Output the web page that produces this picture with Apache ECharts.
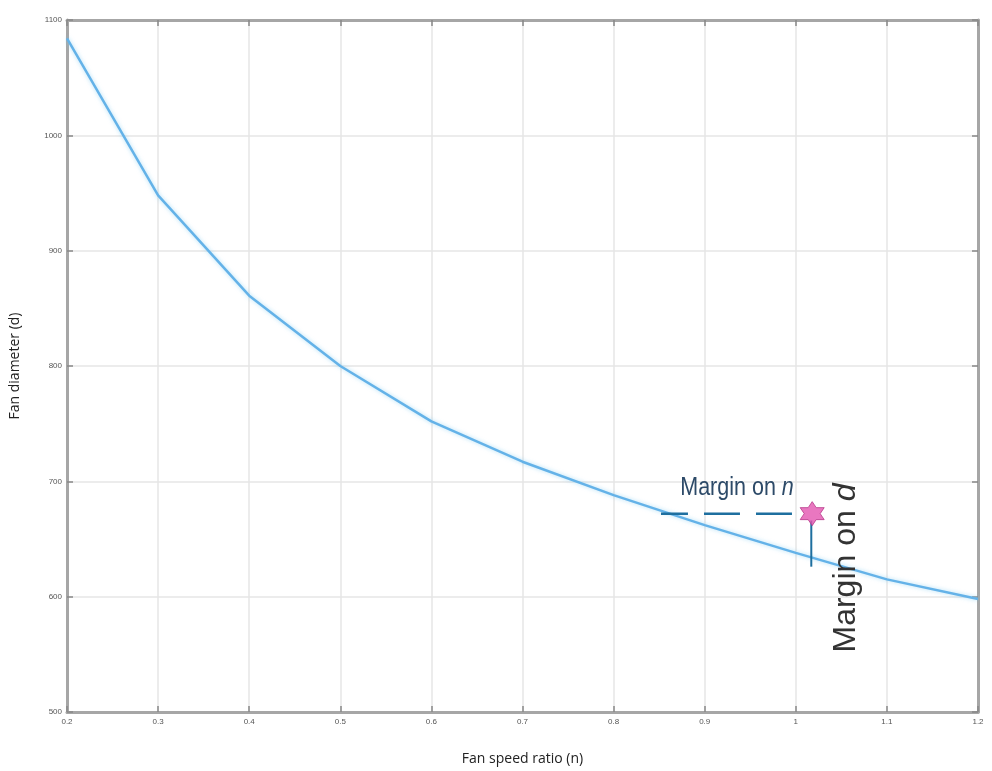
<!DOCTYPE html>
<html>
<head>
<meta charset="utf-8">
<script src="https://cdn.jsdelivr.net/npm/echarts@6/dist/echarts.min.js"></script>
<style>
  html, body { margin: 0; padding: 0; background: #fff; }
  #chart { width: 992px; height: 771px; }
</style>
</head>
<body>
<div id="chart"></div>
<script>
// fan speed ratio vs fan diameter
var speedRatio = [0.2, 0.3, 0.4, 0.5, 0.6, 0.7, 0.8, 0.9, 1.0, 1.1, 1.2];
var diameter = [1084, 948, 861, 800, 752, 717, 688, 662, 638, 615, 598];

// operating point and margins
var starPoint = [1.018, 672];
var marginN = [[0.852, 672], [0.997, 672]];
var marginD = [[1.017, 666], [1.017, 626]];

var chartDom = document.getElementById('chart');
var myChart = echarts.init(chartDom);

var frameColor = '#a6a6a6';
var labelStyle = { color: '#555', fontSize: 8, fontFamily: 'Liberation Sans' };
var hexagram = 'path://M0,-10 L2.89,-5 L8.66,-5 L5.77,0 L8.66,5 L2.89,5 L0,10 L-2.89,5 L-8.66,5 L-5.77,0 L-8.66,-5 L-2.89,-5 Z';

var option = {
    backgroundColor: '#fff',
    animation: false,
    grid: {
        left: 65,
        right: 14,
        top: 20,
        bottom: 53
    },
    xAxis: [
        {
            type: 'value',
            min: 0.2,
            max: 1.2,
            interval: 0.1,
            name: 'Fan speed ratio (n)',
            nameLocation: 'middle',
            nameGap: 40,
            nameTextStyle: { color: '#222', fontSize: 14, fontFamily: 'Open Sans' },
            axisLine: { lineStyle: { color: frameColor, width: 3 } },
            axisTick: { inside: true, length: 6, lineStyle: { color: '#888', width: 1.5 } },
            axisLabel: Object.assign({ margin: 6, formatter: function (v) { return +v.toFixed(1) + ''; } }, labelStyle),
            splitLine: { lineStyle: { color: '#e6e6e6', width: 1.5 } }
        },
        {
            type: 'value',
            position: 'top',
            min: 0.2,
            max: 1.2,
            interval: 0.1,
            axisLine: { lineStyle: { color: frameColor, width: 3 } },
            axisTick: { inside: true, length: 6, lineStyle: { color: '#888', width: 1.5 } },
            axisLabel: { show: false },
            splitLine: { show: false }
        }
    ],
    yAxis: [
        {
            type: 'value',
            min: 500,
            max: 1100,
            interval: 100,
            name: 'Fan diameter (d)',
            nameLocation: 'middle',
            nameGap: 45,
            nameTextStyle: { color: '#222', fontSize: 14, fontFamily: 'Open Sans' },
            axisLine: { show: true, lineStyle: { color: frameColor, width: 3 } },
            axisTick: { show: true, inside: true, length: 6, lineStyle: { color: '#888', width: 1.5 } },
            axisLabel: Object.assign({ margin: 5, formatter: function (v) { return v + ''; } }, labelStyle),
            splitLine: { lineStyle: { color: '#e6e6e6', width: 1.5 } }
        },
        {
            type: 'value',
            position: 'right',
            min: 500,
            max: 1100,
            interval: 100,
            axisLine: { show: true, lineStyle: { color: frameColor, width: 3 } },
            axisTick: { show: true, inside: true, length: 6, lineStyle: { color: '#888', width: 1.5 } },
            axisLabel: { show: false },
            splitLine: { show: false }
        }
    ],
    series: [
        {
            type: 'line',
            data: speedRatio.map(function (x, i) { return [x, diameter[i]]; }),
            showSymbol: false,
            smooth: false,
            lineStyle: {
                color: '#64b2e8',
                width: 2.5,
                shadowColor: 'rgba(120,200,240,0.6)',
                shadowBlur: 4
            },
            z: 3
        },
        {
            type: 'line',
            data: marginN,
            showSymbol: false,
            lineStyle: { color: '#1e6f9f', width: 2.5, type: [36, 16], dashOffset: 9 },
            z: 4
        },
        {
            type: 'line',
            data: marginD,
            showSymbol: false,
            lineStyle: { color: '#1e6f9f', width: 2 },
            z: 4
        },
        {
            type: 'scatter',
            data: [starPoint],
            symbol: hexagram,
            symbolSize: 24,
            itemStyle: { color: '#e455b0', borderColor: '#b8388a', borderWidth: 1 },
            z: 5
        }
    ],
    graphic: [
        {
            type: 'text',
            x: 737,
            y: 488,
            scaleX: 0.86,
            style: {
                text: 'Margin on {i|n}',
                fill: '#2d4a68',
                font: '25px "Liberation Sans"',
                align: 'center',
                verticalAlign: 'middle',
                rich: {
                    i: { fontStyle: 'italic', fontSize: 25, fontFamily: 'Liberation Sans', fill: '#2d4a68' }
                }
            },
            z: 10
        },
        {
            type: 'text',
            x: 846,
            y: 568,
            rotation: Math.PI / 2,
            style: {
                text: 'Margin on {i|d}',
                fill: '#333',
                font: '32px "Liberation Sans"',
                align: 'center',
                verticalAlign: 'middle',
                rich: {
                    i: { fontStyle: 'italic', fontSize: 32, fontFamily: 'Liberation Sans', fill: '#333' }
                }
            },
            z: 10
        }
    ]
};

myChart.setOption(option);
</script>
</body>
</html>
